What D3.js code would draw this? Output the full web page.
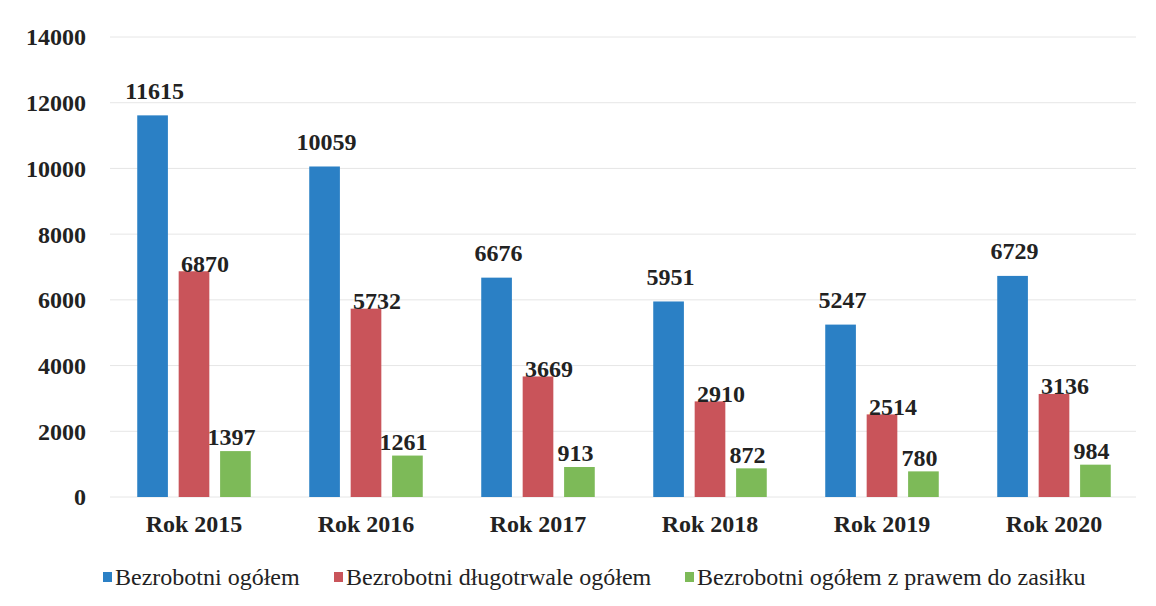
<!DOCTYPE html>
<html>
<head>
<meta charset="utf-8">
<script src="https://cdn.jsdelivr.net/npm/d3@7"></script>
<style>
  body { margin: 0; background: #fff; }
  svg { display: block; }
</style>
</head>
<body>
<svg id="chart" width="1156" height="606"></svg>
<script>
const years = ["Rok 2015", "Rok 2016", "Rok 2017", "Rok 2018", "Rok 2019", "Rok 2020"];
const seriesNames = [
  "Bezrobotni ogółem",
  "Bezrobotni długotrwale ogółem",
  "Bezrobotni ogółem z prawem do zasiłku",
];
const total = [11615, 10059, 6676, 5951, 5247, 6729];
const longTerm = [6870, 5732, 3669, 2910, 2514, 3136];
const withBenefit = [1397, 1261, 913, 872, 780, 984];
const yTicks = [0, 2000, 4000, 6000, 8000, 10000, 12000, 14000];

const colors = ["#2b80c5", "#c9545a", "#7dba58"];
const font = "'Liberation Serif', 'Times New Roman', Tinos, 'DejaVu Serif', serif";
const labelDx = [2, 11, -4];
const labelDy = [-25, -8, -14];

const values = [total, longTerm, withBenefit];
const data = years.map((year, i) => ({
  year,
  values: values.map((v, s) => ({ series: s, value: v[i] })),
}));

const svg = d3.select("#chart")
  .attr("font-family", font)
  .style("font-family", font);

const x = d3.scaleBand().domain(years).range([108, 1140]).paddingInner(0.34).paddingOuter(0.17);
const xInner = d3.scaleBand().domain([0, 1, 2]).range([0, x.bandwidth()]).paddingInner(0.26);
const y = d3.scaleLinear().domain([0, 14000]).range([497, 37]);

// gridlines
svg.append("g")
  .selectAll("line")
  .data(yTicks)
  .join("line")
  .attr("x1", 110)
  .attr("x2", 1136)
  .attr("y1", (d) => y(d))
  .attr("y2", (d) => y(d))
  .attr("stroke", "#e6e6e6")
  .attr("stroke-width", 1);

// y axis labels
svg.append("g")
  .selectAll("text")
  .data(yTicks)
  .join("text")
  .attr("x", 86)
  .attr("y", (d) => y(d))
  .attr("dy", "0.35em")
  .attr("text-anchor", "end")
  .attr("font-size", 24)
  .attr("font-weight", "bold")
  .attr("fill", "#222")
  .text((d) => d);

// bars
const group = svg.append("g")
  .selectAll("g")
  .data(data)
  .join("g")
  .attr("transform", (d) => `translate(${x(d.year)},0)`);

group.selectAll("rect")
  .data((d) => d.values)
  .join("rect")
  .attr("x", (d) => xInner(d.series))
  .attr("width", xInner.bandwidth())
  .attr("y", (d) => y(d.value))
  .attr("height", (d) => y(0) - y(d.value))
  .attr("fill", (d) => colors[d.series]);

group.selectAll("text.value")
  .data((d) => d.values)
  .join("text")
  .attr("class", "value")
  .attr("x", (d) => xInner(d.series) + xInner.bandwidth() / 2 + labelDx[d.series])
  .attr("y", (d) => y(d.value) + labelDy[d.series])
  .attr("dy", "0.35em")
  .attr("text-anchor", "middle")
  .attr("font-size", 24)
  .attr("font-weight", "bold")
  .attr("fill", "#222")
  .text((d) => d.value);

// x axis labels
svg.append("g")
  .selectAll("text")
  .data(years)
  .join("text")
  .attr("x", (d) => x(d) + x.bandwidth() / 2)
  .attr("y", 524)
  .attr("dy", "0.35em")
  .attr("text-anchor", "middle")
  .attr("font-size", 24)
  .attr("font-weight", "bold")
  .attr("fill", "#222")
  .text((d) => d);

// legend
const legendX = [103, 334, 685];
const legend = svg.append("g")
  .selectAll("g")
  .data(seriesNames)
  .join("g")
  .attr("transform", (d, i) => `translate(${legendX[i]},577)`);

legend.append("rect")
  .attr("x", 0)
  .attr("y", -5)
  .attr("width", 9)
  .attr("height", 10)
  .attr("fill", (d, i) => colors[i]);

legend.append("text")
  .attr("x", 12)
  .attr("y", 0)
  .attr("dy", "0.35em")
  .attr("font-size", 24)
  .attr("fill", "#222")
  .text((d) => d);
</script>
</body>
</html>
